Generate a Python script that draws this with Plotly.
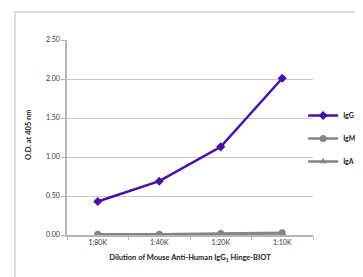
import plotly.graph_objects as go

categories = ["1:80K", "1:40K", "1:20K", "1:10K"]
igg = [0.43, 0.69, 1.13, 2.01]
igm = [0.01, 0.01, 0.02, 0.03]
iga = [0.00, 0.00, 0.01, 0.02]
y_ticks = [0, 0.5, 1.0, 1.5, 2.0, 2.5]
y_ticklabels = ["0.00", "0.50", "1.00", "1.50", "2.00", "2.50"]

W, H = 363, 277
L, R, T, B = 59, 58, 32, 50
pw, ph = W - L - R, H - T - B

font = "Lato, 'Open Sans', sans-serif"
purple = "#4a0fa3"
gray = "#858585"

fig = go.Figure()
fig.add_trace(go.Scatter(x=categories, y=igg, name="IgG", mode="lines+markers",
                         line=dict(color=purple, width=2.5),
                         marker=dict(symbol="diamond", size=7, color=purple),
                         legendgroup="a"))
fig.add_trace(go.Scatter(x=categories, y=igm, name="IgM", mode="lines+markers",
                         line=dict(color=gray, width=2.5),
                         marker=dict(symbol="circle", size=7, color=gray),
                         legendgroup="b"))
fig.add_trace(go.Scatter(x=categories, y=iga, name="IgA", mode="lines+markers",
                         line=dict(color=gray, width=2.5),
                         marker=dict(symbol="triangle-up", size=7, color=gray),
                         legendgroup="c"))

# outer light frame
fig.add_shape(type="rect", xref="paper", yref="paper",
              x0=(7 - L) / pw, x1=(W + 20 - L) / pw,
              y0=(H - 275 - B) / ph, y1=(H - 4 - B) / ph,
              line=dict(color="#dcdcdc", width=2), fillcolor="rgba(0,0,0,0)", layer="below")

fig.add_annotation(text="<b>O.D. at 405 nm</b>", xref="paper", yref="paper",
                   x=(20 - L) / pw, y=(H - B - 127) / ph, textangle=-90,
                   xanchor="center", yanchor="middle",
                   showarrow=False, font=dict(family=font, size=7.5, color="#222"))

fig.update_layout(
    width=W, height=H,
    margin=dict(l=L, r=R, t=T, b=B, autoexpand=False),
    paper_bgcolor="white", plot_bgcolor="white",
    font=dict(family=font, size=7, color="#333"),
    showlegend=True,
    legend=dict(x=0.96, y=(H - B - 93) / ph, xanchor="left", yanchor="top",
                font=dict(family=font, size=7, color="#222", weight="bold"),
                itemwidth=30, tracegroupgap=4, borderwidth=0,
                bgcolor="rgba(0,0,0,0)"),
    xaxis=dict(type="category", range=[-0.5, 3.5], showgrid=False,
               showline=True, linecolor="#b5b5b5", linewidth=1.5,
               ticks="outside", ticklen=3, tickcolor="#b5b5b5",
               tickson="boundaries", automargin=False,
               title=dict(text="<b>Dilution of Mouse Anti-Human IgG<sub>1</sub> Hinge-BIOT</b>",
                          font=dict(size=7.5, color="#222"), standoff=10),
               tickfont=dict(size=7, color="#333"), fixedrange=True),
    yaxis=dict(range=[0, 2.5], tickvals=y_ticks, ticktext=y_ticklabels,
               showgrid=True, gridcolor="#c8c8c8", gridwidth=1,
               showline=True, linecolor="#b5b5b5", linewidth=1.5,
               ticks="outside", ticklen=4, tickcolor="#b5b5b5",
               zeroline=False, automargin=False,
               tickfont=dict(size=7, color="#333"), fixedrange=True),
)

fig.write_html("out.html", config=dict(displayModeBar=False))
